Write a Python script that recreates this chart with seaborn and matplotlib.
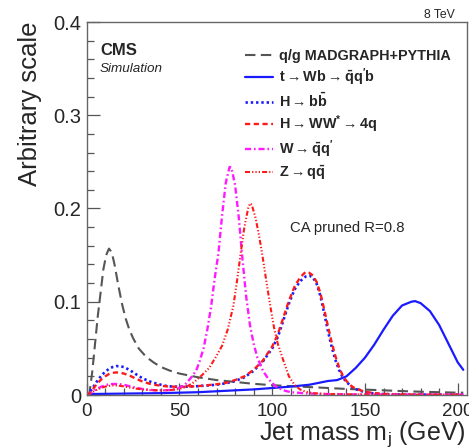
import numpy as np
import pandas as pd
import matplotlib
matplotlib.use("Agg")
import matplotlib.pyplot as plt
import seaborn as sns

# ---- jet mass distributions (normalised, arbitrary scale) ----
qcd_x = [0, 1.5, 3, 4.5, 6, 7.5, 9, 10.5, 12, 13.5, 15, 17, 19, 21, 23, 25, 28, 32, 36,
         40, 45, 50, 55, 60, 70, 80, 90, 100, 110, 120, 130, 140, 150, 160, 170, 180,
         190, 200, 203]
qcd_y = [0, 0.002, 0.025, 0.055, 0.085, 0.110, 0.135, 0.150, 0.157, 0.153, 0.140, 0.118,
         0.098, 0.082, 0.070, 0.061, 0.050, 0.041, 0.035, 0.030, 0.026, 0.023, 0.021,
         0.019, 0.016, 0.014, 0.012, 0.0105, 0.0095, 0.0085, 0.0075, 0.0065, 0.0058,
         0.005, 0.0042, 0.0035, 0.003, 0.0025, 0.0025]

top_x = [0, 20, 40, 60, 70, 80, 90, 100, 110, 120, 125, 130, 135, 140, 145, 150, 155,
         160, 165, 170, 175, 177, 180, 185, 190, 195, 200, 203]
top_y = [0.001, 0.0015, 0.002, 0.003, 0.004, 0.005, 0.006, 0.0075, 0.009, 0.011, 0.013,
         0.015, 0.016, 0.020, 0.029, 0.040, 0.054, 0.070, 0.085, 0.096, 0.1000, 0.1007,
         0.0985, 0.090, 0.075, 0.055, 0.035, 0.027]

hbb_x = [0, 2, 4, 6, 8, 10, 12, 14, 16, 18, 20, 23, 26, 30, 34, 38, 42, 46, 50, 55, 60,
         65, 70, 75, 80, 85, 90, 95, 100, 103, 106, 109, 112, 115, 118, 120, 122, 124,
         126, 128, 130, 132, 134, 136, 138, 140, 143, 146, 150, 155, 160, 170, 180, 190,
         200, 203]
hbb_y = [0, 0.004, 0.010, 0.016, 0.021, 0.025, 0.028, 0.030, 0.031, 0.0308, 0.030, 0.027,
         0.023, 0.018, 0.0145, 0.012, 0.010, 0.009, 0.0088, 0.009, 0.0095, 0.0102, 0.011,
         0.0125, 0.015, 0.019, 0.026, 0.036, 0.050, 0.062, 0.080, 0.098, 0.113, 0.122,
         0.127, 0.128, 0.126, 0.119, 0.106, 0.088, 0.069, 0.052, 0.038, 0.027, 0.019,
         0.014, 0.0085, 0.0055, 0.003, 0.0015, 0.001, 0.0005, 0.0004, 0.0003, 0.0003,
         0.0003]

hww_x = hbb_x
hww_y = [0, 0.003, 0.008, 0.013, 0.017, 0.020, 0.0225, 0.0238, 0.0242, 0.024, 0.023,
         0.021, 0.018, 0.0145, 0.012, 0.0105, 0.0095, 0.009, 0.0088, 0.009, 0.0095,
         0.0105, 0.0115, 0.013, 0.016, 0.020, 0.027, 0.037, 0.052, 0.065, 0.083, 0.101,
         0.116, 0.126, 0.132, 0.131, 0.128, 0.121, 0.109, 0.092, 0.074, 0.057, 0.042,
         0.030, 0.021, 0.015, 0.009, 0.006, 0.0035, 0.002, 0.0012, 0.0006, 0.0004,
         0.0003, 0.0003, 0.0003]

w_x = [0, 2, 4, 6, 8, 10, 12, 14, 16, 18, 20, 23, 26, 30, 34, 38, 42, 46, 50, 53, 56, 59,
       61, 63, 65, 67, 69, 71, 73, 75, 77, 78, 80, 82, 84, 86, 88, 90, 92, 95, 98, 102,
       106, 110, 120, 130, 150, 203]
w_y = [0, 0.002, 0.005, 0.007, 0.009, 0.0105, 0.0115, 0.0118, 0.0118, 0.0115, 0.011,
       0.0095, 0.008, 0.0065, 0.0055, 0.005, 0.005, 0.0055, 0.0075, 0.011, 0.018, 0.026,
       0.037, 0.050, 0.070, 0.094, 0.125, 0.152, 0.193, 0.228, 0.2445, 0.244, 0.225,
       0.190, 0.145, 0.105, 0.075, 0.055, 0.040, 0.026, 0.017, 0.009, 0.005, 0.003,
       0.0015, 0.001, 0.0005, 0.0003]

z_x = [0, 2, 4, 6, 8, 10, 12, 14, 16, 18, 20, 23, 26, 30, 34, 38, 42, 46, 50, 54, 58, 62,
       66, 70, 73, 76, 79, 81, 83, 85, 87, 88, 89, 91, 93, 95, 97, 99, 101, 103, 106, 109,
       112, 115, 118, 122, 130, 150, 203]
z_y = [0, 0.002, 0.004, 0.006, 0.0078, 0.009, 0.0098, 0.0102, 0.0102, 0.0098, 0.0092,
       0.008, 0.007, 0.006, 0.0052, 0.005, 0.005, 0.0055, 0.0065, 0.009, 0.014, 0.021,
       0.029, 0.042, 0.053, 0.070, 0.095, 0.122, 0.152, 0.180, 0.200, 0.2055, 0.204,
       0.190, 0.170, 0.146, 0.120, 0.095, 0.072, 0.055, 0.037, 0.020, 0.011, 0.006,
       0.0035, 0.002, 0.001, 0.0005, 0.0003]

labels = [
    "q/g MADGRAPH+PYTHIA",
    r"$\mathbf{t \rightarrow Wb \rightarrow \bar{q}q'b}$",
    r"$\mathbf{H \rightarrow b\bar{b}}$",
    r"$\mathbf{H \rightarrow WW^{*} \rightarrow 4q}$",
    r"$\mathbf{W \rightarrow \bar{q}q'}$",
    r"$\mathbf{Z \rightarrow q\bar{q}}$",
]
xtick_vals = [0, 50, 100, 150, 200]
ytick_vals = [0, 0.1, 0.2, 0.3, 0.4]
ytick_labels = ["0", "0.1", "0.2", "0.3", "0.4"]

series = [
    (qcd_x, qcd_y, "#555555", (0, (5, 2.6)), 1.5),
    (top_x, top_y, "#1a1aff", "-", 1.6),
    (hbb_x, hbb_y, "#1a1aff", (0, (0.9, 1.1)), 1.9),
    (hww_x, hww_y, "#ff1a1a", (0, (2.2, 1.5)), 1.7),
    (w_x, w_y, "#ff1aff", (0, (2.6, 1.2, 0.7, 1.2)), 1.7),
    (z_x, z_y, "#ff1a1a", (0, (2.4, 1.0, 0.6, 1.0, 0.6, 1.0, 0.6, 1.0)), 1.5),
]

sns.set_style("ticks")
plt.rcParams["font.family"] = ["Liberation Sans", "DejaVu Sans"]
plt.rcParams["mathtext.fontset"] = "custom"
plt.rcParams["mathtext.rm"] = "Liberation Sans"
plt.rcParams["mathtext.bf"] = "Liberation Sans:bold"
plt.rcParams["mathtext.it"] = "Liberation Sans:italic"
plt.rcParams["mathtext.default"] = "regular"

W, H = 469, 448
fig = plt.figure(figsize=(W / 100, H / 100), dpi=100)
ax = fig.add_axes([86.7 / W, 1 - 395 / H, (467 - 86.7) / W, 373 / H])

for (xs, ys, col, ls, lw), lab in zip(series, labels):
    df = pd.DataFrame({"m": xs, "v": ys})
    sns.lineplot(data=df, x="m", y="v", color=col, linestyle=ls, linewidth=lw,
                 estimator=None, sort=False, ax=ax, label=lab)

ax.set_xlim(0, 205)
ax.set_ylim(0, 0.4)
ax.set_xticks(xtick_vals)
ax.set_xticklabels([str(v) for v in xtick_vals], fontsize=13.5)
ax.set_yticks(ytick_vals)
ax.set_yticklabels(ytick_labels, fontsize=14.5)
ax.set_xticks(np.arange(0, 205, 10), minor=True)
ax.set_yticks(np.arange(0, 0.401, 0.02), minor=True)
ax.tick_params(which="both", direction="in", color="#555555", width=0.9)
ax.tick_params(which="major", length=9)
ax.tick_params(which="minor", length=5)
ax.tick_params(axis="x", which="major", pad=6)
ax.tick_params(axis="y", which="major", pad=4)
for sp in ax.spines.values():
    sp.set_color("#666666")
    sp.set_linewidth(1.0)

ax.set_xlabel(r"Jet mass m$_{j}$ (GeV)", fontsize=18)
ax.xaxis.label.set_horizontalalignment("right")
ax.xaxis.label.set_verticalalignment("baseline")
ax.xaxis.set_label_coords((466 - 86.7) / (467 - 86.7), -45 / 373)
ax.set_ylabel("Arbitrary scale", fontsize=18.5, loc="top", labelpad=8)

leg = ax.legend(loc="upper left", bbox_to_anchor=(245 / W, 1 - 49 / H),
                bbox_transform=fig.transFigure, frameon=False, borderpad=0,
                borderaxespad=0, handlelength=1.95, handletextpad=0.4,
                labelspacing=0.25, prop={"weight": "bold", "size": 10.4})

fig.text(100 / W, 1 - 55 / H, "CMS", fontsize=12, fontweight="bold", va="baseline")
fig.text(100 / W, 1 - 72 / H, "Simulation", fontsize=9.7, fontstyle="italic",
         va="baseline")
fig.text(455 / W, 1 - 18 / H, "8 TeV", fontsize=8.8, ha="right", va="baseline")
fig.text(290 / W, 1 - 232 / H, "CA pruned R=0.8", fontsize=10.7, va="baseline")

fig.savefig("out.png", dpi=100)
